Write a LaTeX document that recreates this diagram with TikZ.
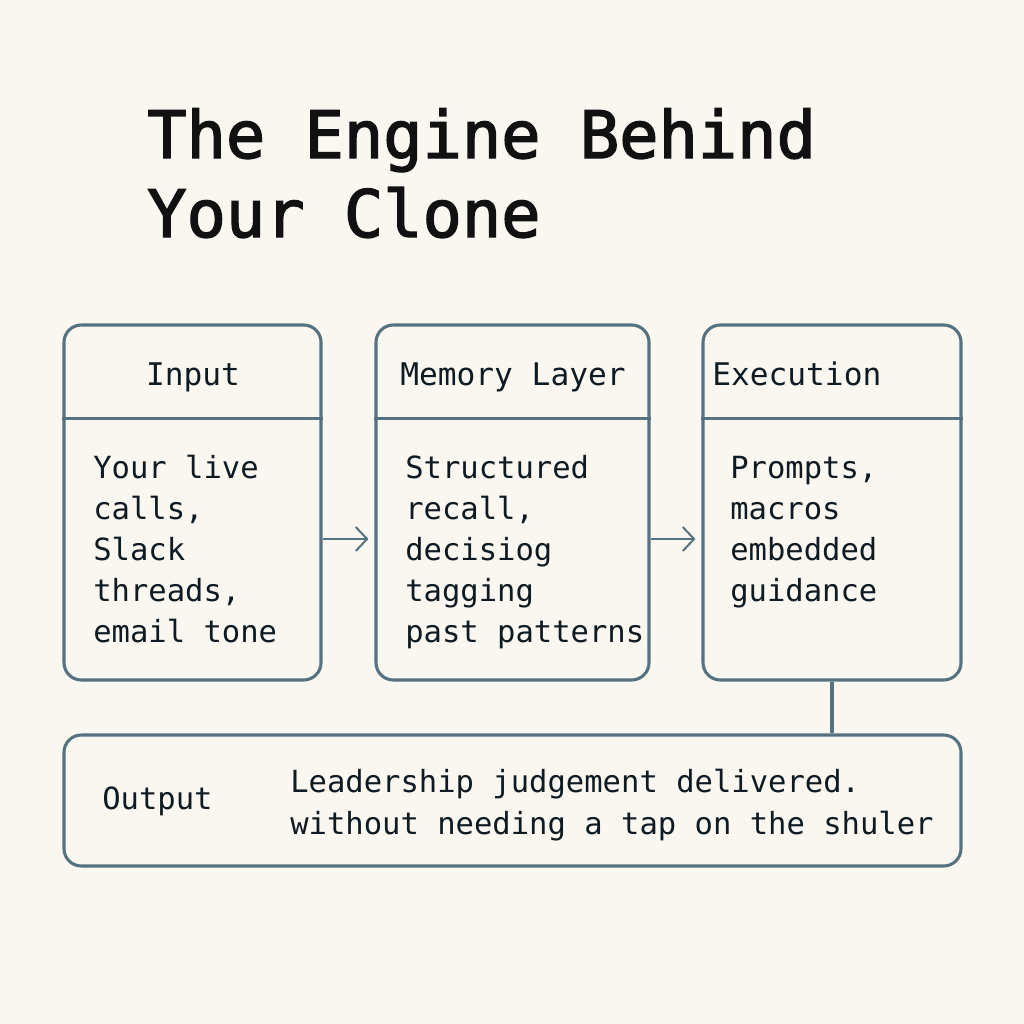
\documentclass[tikz,border=0pt]{standalone}
\usepackage{fontspec}
\setmonofont{DejaVu Sans Mono}
\newfontfamily\titlefont[FakeBold=2.2]{DejaVu Sans Mono}
\usetikzlibrary{arrows.meta}
\definecolor{bg}{HTML}{FAF7F1}
\definecolor{frame}{HTML}{557280}
\definecolor{ink}{HTML}{0E1B22}
\definecolor{titleink}{HTML}{111111}
\tikzset{
  panel/.style={draw=frame, line width=2.3pt, rounded corners=13pt, inner sep=0pt},
  divider/.style={draw=frame, line width=2.3pt},
  txt/.style={font=\ttfamily\fontsize{22.9}{30}\selectfont, text=ink, inner sep=0pt, anchor=base west},
  hdr/.style={txt, font=\ttfamily\fontsize{23.4}{30}\selectfont},
  ttl/.style={font=\titlefont\fontsize{49}{60}\selectfont, text=titleink, inner sep=0pt, anchor=base west},
  link/.style={draw=frame, line width=2.3pt},
  arr/.style={draw=frame, line width=1.5pt, -{Straight Barb[length=8.5pt,width=18pt,line width=1.5pt]}}
}
\begin{document}
\begin{tikzpicture}[x=0.75pt,y=-0.75pt]
\fill[bg] (0,0) rectangle (1024,1024);
\useasboundingbox (0,0) rectangle (1024,1024);

% title
\node[ttl] (t1) at (147,158) {The Engine Behind};
\node[ttl] (t2) at (147,237) {Your Clone};

% panels
\node[panel, minimum width=192.75pt, minimum height=266.25pt] (in) at (192.5,502.5) {};
\node[panel, minimum width=204.75pt, minimum height=266.25pt] (mem) at (512.5,502.5) {};
\node[panel, minimum width=193.5pt, minimum height=266.25pt] (ex) at (832,502.5) {};
\node[panel, minimum width=672.75pt, minimum height=98.25pt] (out) at (512.5,800.5) {};

% header dividers
\foreach \b in {in,mem,ex}{
  \draw[divider] ([yshift=-71.25pt]\b.north west) -- ([yshift=-71.25pt]\b.north east);
}

% headers
\node[hdr, anchor=base] (hin) at (193,385) {Input};
\node[hdr] (hmem) at (400,385) {Memory Layer};
\node[hdr] (hex) at (712,385) {Execution};

% bodies
\foreach \s [count=\i from 0] in {Your live,{calls,},Slack,{threads,},email tone}{
  \node[txt] (bin\i) at (93,478+41*\i) {\s};
}
\foreach \s [count=\i from 0] in {Structured,{recall,},decisiog,tagging,past patterns}{
  \node[txt] (bmem\i) at (405,478+41*\i) {\s};
}
\foreach \s [count=\i from 0] in {{Prompts,},macros,embedded,guidance}{
  \node[txt] (bex\i) at (730,478+41*\i) {\s};
}

% output
\node[txt] (olab) at (102,809) {Output};
\node[txt] (o1) at (290,792) {Leadership judgement delivered.};
\node[txt] (o2) at (290,834) {without needing a tap on the shuler};

% connectors
\coordinate (ay) at (0,539);
\draw[arr] (in.east |- ay) -- ([xshift=-4.5pt]mem.west |- ay);
\draw[arr] (mem.east |- ay) -- ([xshift=-4.5pt]ex.west |- ay);
\draw[link] (ex.south) -- (ex.south |- out.north);
\end{tikzpicture}
\end{document}
